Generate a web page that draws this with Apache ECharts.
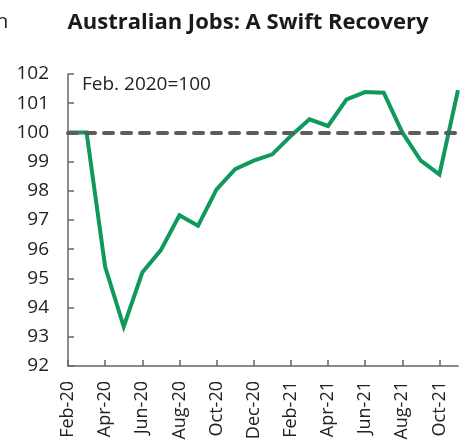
<!DOCTYPE html>
<html>
<head>
<meta charset="utf-8">
<script src="https://cdn.jsdelivr.net/npm/echarts@6/dist/echarts.min.js"></script>
<style>
  html, body { margin: 0; padding: 0; background: #fff; }
  #chart { width: 469px; height: 445px; }
</style>
</head>
<body>
<div id="chart"></div>
<script>
const months = [
  "Feb-20", "Mar-20", "Apr-20", "May-20", "Jun-20", "Jul-20", "Aug-20", "Sep-20",
  "Oct-20", "Nov-20", "Dec-20", "Jan-21", "Feb-21", "Mar-21", "Apr-21", "May-21",
  "Jun-21", "Jul-21", "Aug-21", "Sep-21", "Oct-21", "Nov-21",
];
const jobsIndex = [
  100, 100, 95.4, 93.35, 95.2, 95.97, 97.16, 96.8, 98.05, 98.74, 99.03, 99.25,
  99.88, 100.45, 100.22, 101.13, 101.38, 101.36, 100.0, 99.03, 98.56, 101.45,
];
const baseline = 100;
const font = "'Open Sans', 'Noto Sans', sans-serif";

const chart = echarts.init(document.getElementById("chart"));
chart.setOption({
  animation: false,
  title: {
    text: "Australian Jobs: A Swift Recovery",
    left: 243,
    textAlign: "center",
    top: 7,
    textStyle: { fontFamily: font, fontSize: 22, fontWeight: "bold", color: "#1a1a1a" },
  },
  graphic: [
    {
      type: "text",
      left: -4,
      top: 12,
      style: { text: "h", font: "20px " + font, fill: "#1a1a1a" },
    },
    {
      type: "text",
      left: 82,
      top: 75,
      style: { text: "Feb. 2020=100", font: "19px " + font, fill: "#222" },
    },
  ],
  grid: { left: 68, right: 11, top: 74, bottom: 79 },
  xAxis: {
    type: "category",
    data: months,
    boundaryGap: false,
    axisLine: { lineStyle: { color: "#666", width: 1.5 } },
    axisTick: { inside: true, length: 6, interval: 1, lineStyle: { color: "#666", width: 1.5 } },
    axisLabel: {
      interval: 1,
      rotate: 90,
      margin: 15,
      color: "#222",
      fontFamily: font,
      fontSize: 18,
    },
    splitLine: { show: false },
  },
  yAxis: {
    type: "value",
    min: 92,
    max: 102,
    interval: 1,
    axisLine: { show: true, lineStyle: { color: "#666", width: 1.5 } },
    axisTick: { show: true, inside: true, length: 6, lineStyle: { color: "#666", width: 1.5 } },
    axisLabel: { margin: 19, color: "#222", fontFamily: font, fontSize: 19 },
    splitLine: { show: false },
  },
  series: [
    {
      type: "line",
      data: jobsIndex,
      showSymbol: false,
      lineStyle: { color: "#0f9a5c", width: 4, join: "miter" },
      z: 2,
    },
    {
      type: "line",
      data: [],
      z: 3,
      markLine: {
        silent: true,
        symbol: "none",
        label: { show: false },
        lineStyle: { color: "#5c5c5c", width: 4, type: [9, 9], cap: "round" },
        data: [{ yAxis: baseline }],
      },
    },
  ],
});
</script>
</body>
</html>
